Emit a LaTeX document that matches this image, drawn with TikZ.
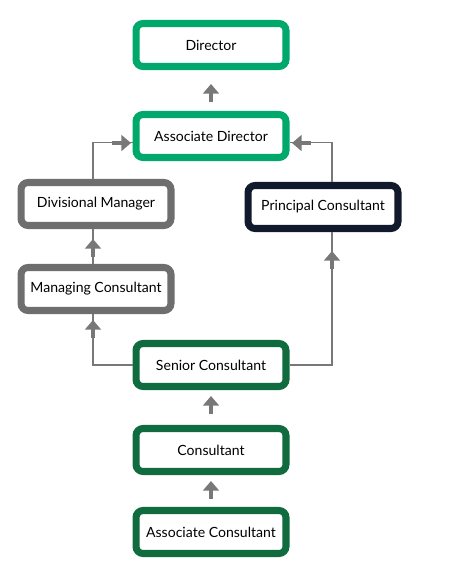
\documentclass[tikz,border=0pt]{standalone}
\usepackage{fontspec}
\setmainfont{Lato}
\usetikzlibrary{arrows.meta}
\definecolor{leadgreen}{RGB}{0,168,107}
\definecolor{staffgreen}{RGB}{16,107,62}
\definecolor{mgrgray}{RGB}{110,110,110}
\definecolor{navy}{RGB}{16,26,44}
\definecolor{linkgray}{RGB}{120,120,120}

\begin{document}
\begin{tikzpicture}[x=0.02cm,y=-0.02cm,
    role/.style={rectangle, rounded corners=4pt, draw, line width=4pt,
      fill=white, minimum width=3.0cm, minimum height=0.86cm,
      font=\fontsize{8}{10}\selectfont},
    link/.style={draw=linkgray, line width=0.6pt},
    bigarrow/.style={linkgray, line width=2.8pt, -{Triangle[length=5.5pt,width=9pt]}}]
  \useasboundingbox (0,0) rectangle (450,580);
  % roles
  \node[role, draw=leadgreen] (dir) at (211,45) {Director};
  \node[role, draw=leadgreen] (ad) at (211,136) {Associate Director};
  \node[role, draw=mgrgray] (dm) at (96,204) {Divisional Manager};
  \node[role, draw=mgrgray] (mc) at (96,289) {Managing Consultant};
  \node[role, draw=navy] (pc) at (323,207) {Principal Consultant};
  \node[role, draw=staffgreen] (sc) at (211,365) {Senior Consultant};
  \node[role, draw=staffgreen] (con) at (211,450) {Consultant};
  \node[role, draw=staffgreen] (ac) at (211,532) {Associate Consultant};
  % thin links
  \draw[link] ([xshift=-0.06cm]dm.north) |- (ad.185);
  \draw[link] ([xshift=-0.06cm]dm.south) -- ([xshift=-0.06cm]mc.north);
  \draw[link] (sc.west) -| ([xshift=-0.06cm]mc.south);
  \draw[link] (sc.east) -| ([xshift=0.18cm]pc.south);
  \draw[link] ([xshift=0.18cm]pc.north) |- (ad.355);
  % arrows
  \draw[bigarrow] (211,102) -- (211,84);
  \draw[bigarrow] (93,257) -- (93,239);
  \draw[bigarrow] (93,338) -- (93,320);
  \draw[bigarrow] (112,143) -- (131,143);
  \draw[bigarrow] (311,143) -- (292,143);
  \draw[bigarrow] (332,269) -- (332,251);
  \draw[bigarrow] (211,414) -- (211,396);
  \draw[bigarrow] (211,499) -- (211,481);
\end{tikzpicture}
\end{document}
